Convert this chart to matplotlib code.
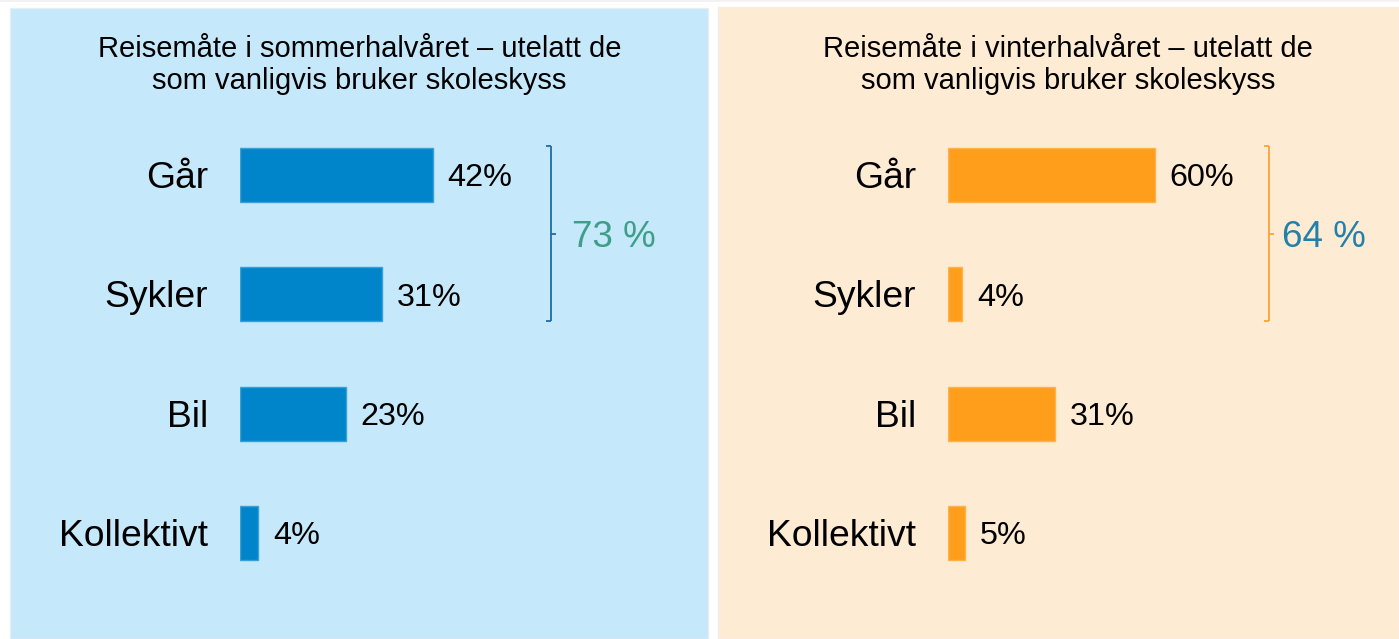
import matplotlib
matplotlib.use("Agg")
import matplotlib.pyplot as plt
from matplotlib.patches import Rectangle
from matplotlib.lines import Line2D

plt.rcParams['font.family'] = ['Liberation Sans', 'DejaVu Sans']

# ---- data ----
categories = ["Går", "Sykler", "Bil", "Kollektivt"]
summer_values = [42, 31, 23, 4]
winter_values = [60, 4, 31, 5]
summer_title = "Reisemåte i sommerhalvåret – utelatt de\nsom vanligvis bruker skoleskyss"
winter_title = "Reisemåte i vinterhalvåret – utelatt de\nsom vanligvis bruker skoleskyss"
summer_bracket_label = "73 %"
winter_bracket_label = "64 %"

W, H = 1399, 639
fig = plt.figure(figsize=(W / 100, H / 100), dpi=100)
fig.patch.set_facecolor("white")


def px_rect(x0, y0, x1, y1, color, **kw):
    # rectangle in pixel coords (y from top)
    fig.patches.append(Rectangle((x0 / W, 1 - y1 / H), (x1 - x0) / W, (y1 - y0) / H,
                                 transform=fig.transFigure, facecolor=color,
                                 edgecolor=kw.get("edgecolor", "none"),
                                 linewidth=kw.get("lw", 0), zorder=-10))


px_rect(0, 0, W, H, "#F2F2F2")
px_rect(0, 1.5, W, H, "white")
px_rect(10, 8, 708, H, "#C5E8FB", edgecolor="#E6EEF2", lw=1)
px_rect(718, 7, W, H, "#FEEBD4", edgecolor="#F0EDEA", lw=1)

spacing = 119.3
first_center = 175.0
ylo = first_center - 0.5 * spacing
yhi = first_center + 3.5 * spacing


def make_panel(x0_px, scale, values, title, title_cx, bar_color, edge_color,
               bracket_offset, bracket_color, label_text, label_color, label_gap):
    width_px = 100 * scale
    ax = fig.add_axes([x0_px / W, 1 - yhi / H, width_px / W, (yhi - ylo) / H])
    ax.set_xlim(0, 100)
    ax.set_ylim(3.5, -0.5)
    ax.axis("off")
    ypos = list(range(len(categories)))
    ax.barh(ypos, values, height=54 / spacing, color=bar_color,
            edgecolor=edge_color, linewidth=1.0)
    px = 1.0 / scale  # one pixel in data units
    dy = 3.5 / spacing  # small downward nudge for text
    for y, v, c in zip(ypos, values, categories):
        ax.text(-32 * px, y + dy, c, ha="right", va="center", fontsize=26.8,
                color="black", clip_on=False)
        ax.text(v + 15 * px, y + dy, f"{v}%", ha="left", va="center", fontsize=23.3,
                color="black", clip_on=False)
    # bracket spanning first two categories
    bx = max(values) + bracket_offset * px
    ytop = -29 / spacing
    ybot = (ypos[1] * spacing + 27) / spacing
    ymid = (ytop + ybot) / 2
    kw = dict(color=bracket_color, lw=1.3, clip_on=False, solid_capstyle="butt")
    ax.add_line(Line2D([bx, bx], [ytop, ybot], **kw))
    ax.add_line(Line2D([bx - 5 * px, bx], [ytop, ytop], **kw))
    ax.add_line(Line2D([bx - 5 * px, bx], [ybot, ybot], **kw))
    ax.add_line(Line2D([bx, bx + 5 * px], [ymid, ymid], **kw))
    ax.text(bx + label_gap * px, ymid + dy, label_text, ha="left", va="center",
            fontsize=26.5, color=label_color, clip_on=False)
    fig.text(title_cx / W, 1 - 65 / H, title, ha="center", va="center",
             fontsize=21, linespacing=1.22, color="black")
    return ax


make_panel(240, 4.589, summer_values, summer_title, 359.5, "#0085CA", "#3AA0D8",
           118, "#1F6BA8", summer_bracket_label, "#3E9E88", 21)
make_panel(948, 3.445, winter_values, winter_title, 1068, "#FF9E1B", "#FFB24A",
           114, "#FFA42E", winter_bracket_label, "#2380A8", 13)

fig.savefig("out.png", dpi=100)
